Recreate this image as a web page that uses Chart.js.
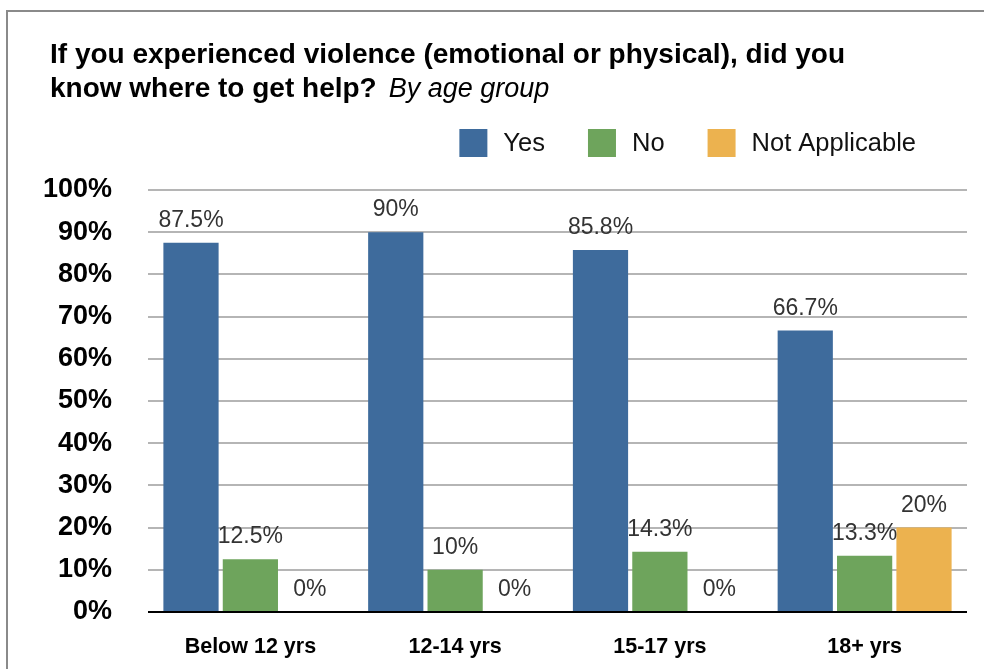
<!DOCTYPE html>
<html>
<head>
<meta charset="utf-8">
<script src="https://cdn.jsdelivr.net/npm/chart.js@4"></script>
<style>
  html, body { margin: 0; padding: 0; background: #fff; }
  #wrap { position: relative; width: 984px; height: 669px; }
</style>
</head>
<body>
<div id="wrap"><canvas id="grafico" width="984" height="669"></canvas></div>
<script>
const categorias = ['Below 12 yrs', '12-14 yrs', '15-17 yrs', '18+ yrs'];
const serieYes = [87.5, 90, 85.8, 66.7];
const serieNo = [12.5, 10, 14.3, 13.3];
const serieNA = [0, 0, 0, 20];
const nomesSeries = ['Yes', 'No', 'Not Applicable'];
const cores = ['#3e6b9c', '#6ea45c', '#ecb24f'];

const FONTE = '"Liberation Sans", Arial, Helvetica, sans-serif';
Chart.defaults.font.family = FONTE;

// moldura cinza, titulo, legenda e rotulos desenhados a mao
const extras = {
  id: 'extras',
  beforeDraw(chart) {
    const c = chart.ctx;
    c.save();
    c.strokeStyle = '#8a8a8a';
    c.lineWidth = 2;
    c.beginPath();
    c.moveTo(7, chart.height);
    c.lineTo(7, 11);
    c.lineTo(chart.width, 11);
    c.stroke();
    c.restore();
  },
  afterDraw(chart) {
    const c = chart.ctx;
    c.save();
    // titulo
    c.fillStyle = '#000';
    c.textBaseline = 'alphabetic';
    c.textAlign = 'left';
    c.font = 'bold 28px ' + FONTE;
    c.fillText('If you experienced violence (emotional or physical), did you', 50, 63);
    c.fillText('know where to get help?', 50, 97);
    const w = c.measureText('know where to get help?').width;
    c.font = 'italic 27px ' + FONTE;
    c.fillText('By age group', 50 + w + 12, 97);

    // legenda
    c.font = '25.5px ' + FONTE;
    const itens = chart.data.datasets.map(d => ({ txt: d.label, cor: d.backgroundColor, w: 28 + 16 + c.measureText(d.label).width }));
    const total = itens.reduce((a, b) => a + b.w, 0) + 43 * (itens.length - 1);
    let x = 916 - total;
    c.textBaseline = 'middle';
    itens.forEach(it => {
      c.fillStyle = it.cor;
      c.fillRect(x, 129, 28, 28);
      c.fillStyle = '#111';
      c.fillText(it.txt, x + 44, 144);
      x += it.w + 43;
    });

    // rotulos das barras
    c.font = '23px ' + FONTE;
    c.fillStyle = '#333';
    c.textAlign = 'center';
    c.textBaseline = 'alphabetic';
    chart.data.datasets.forEach((ds, i) => {
      chart.getDatasetMeta(i).data.forEach((bar, j) => {
        c.fillText(ds.data[j] + '%', bar.x, bar.y - 16);
      });
    });
    c.restore();
  }
};

new Chart(document.getElementById('grafico').getContext('2d'), {
  type: 'bar',
  data: {
    labels: categorias,
    datasets: [
      { label: nomesSeries[0], data: serieYes, backgroundColor: cores[0] },
      { label: nomesSeries[1], data: serieNo, backgroundColor: cores[1] },
      { label: nomesSeries[2], data: serieNA, backgroundColor: cores[2] }
    ]
  },
  options: {
    responsive: false,
    animation: false,
    categoryPercentage: 0.87,
    barPercentage: 0.93,
    layout: { padding: { left: 10, right: 17, top: 190, bottom: 0 } },
    plugins: {
      legend: { display: false },
      title: { display: false },
      tooltip: { enabled: false }
    },
    scales: {
      x: {
        grid: { display: false },
        border: { display: false },
        ticks: { color: '#000', font: { size: 21.5, weight: 'bold' }, padding: 14 },
        afterFit(scale) { scale.height = 57; }
      },
      y: {
        min: 0,
        max: 100,
        grid: {
          drawTicks: false,
          lineWidth: 2,
          color: ctx => ctx.tick && ctx.tick.value === 0 ? '#000' : '#b5b5b5'
        },
        border: { display: false },
        ticks: {
          stepSize: 10,
          color: '#000',
          font: { size: 27, weight: 'bold' },
          padding: 36,
          callback: v => v + '%'
        },
        afterFit(scale) { scale.width = 138; }
      }
    }
  },
  plugins: [extras]
});
</script>
</body>
</html>
